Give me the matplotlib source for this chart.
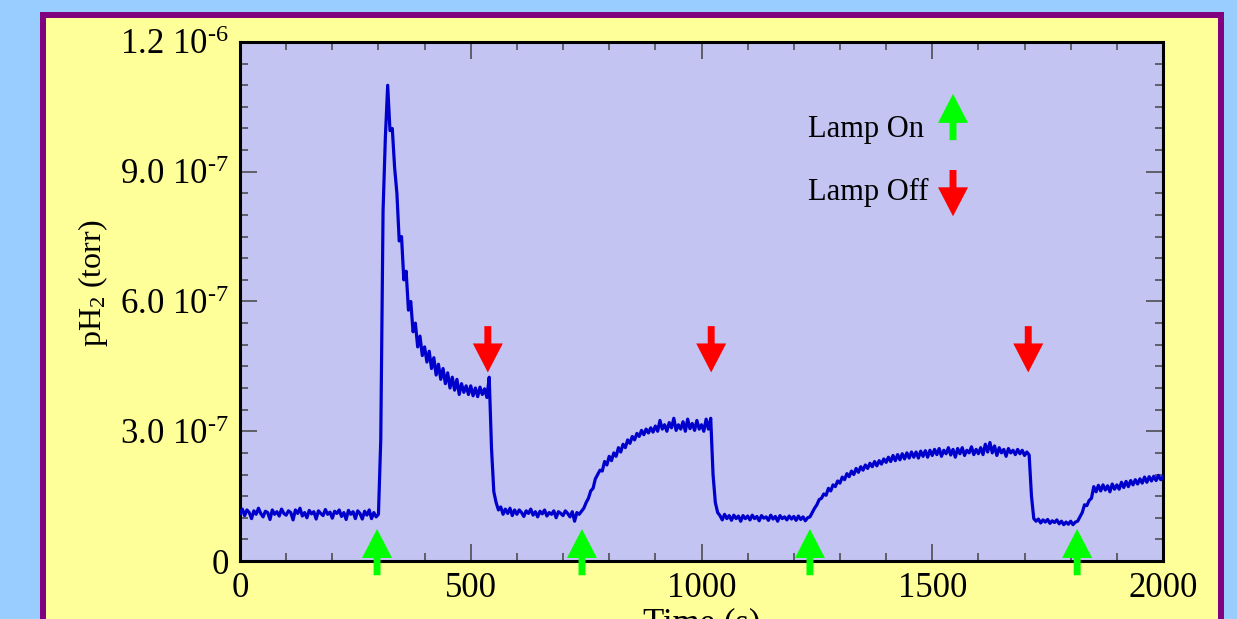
import numpy as np
import matplotlib
matplotlib.use('Agg')
import matplotlib.pyplot as plt
from matplotlib.patches import Rectangle, FancyArrow
from matplotlib.ticker import MultipleLocator, FixedLocator, FixedFormatter

plt.rcParams['font.family'] = ['Liberation Serif', 'DejaVu Serif']
plt.rcParams['mathtext.fontset'] = 'custom'
plt.rcParams['mathtext.rm'] = 'Liberation Serif'
plt.rcParams['mathtext.it'] = 'Liberation Serif:italic'

# pH2 trace, every 5 s (units of 1e-7 torr)
time_s = np.arange(0, 2001, 5)
ph2_e7 = [
    1.10, 1.20, 1.05, 1.18, 1.12, 0.98, 1.16, 1.08, 1.22, 1.10, 1.02, 1.15, 1.12, 0.96, 1.18, 1.08, 1.14, 1.04, 1.20, 1.10,
    1.06, 1.16, 1.12, 0.95, 1.18, 1.10, 1.22, 1.04, 1.12, 1.00, 1.17, 1.09, 1.14, 0.97, 1.16, 1.10, 1.05, 1.19, 1.08, 1.13,
    0.99, 1.15, 1.10, 1.18, 1.03, 1.12, 0.96, 1.17, 1.08, 1.14, 0.98, 1.16, 1.10, 0.97, 1.15, 1.06, 1.18, 0.98, 1.12, 1.02,
    1.08, 2.80, 8.10, 9.80, 11.0, 9.95, 10.0, 9.10, 8.50, 7.40, 7.50, 6.50, 6.70, 5.80, 6.00, 5.30, 5.50, 4.95, 5.20, 4.75,
    4.95, 4.60, 4.85, 4.45, 4.70, 4.30, 4.55, 4.20, 4.45, 4.10, 4.35, 4.00, 4.25, 3.95, 4.20, 3.85, 4.10, 3.90, 4.05, 3.85,
    4.05, 3.82, 4.00, 3.80, 4.02, 3.85, 3.98, 3.78, 4.25, 2.60, 1.60, 1.35, 1.18, 1.25, 1.08, 1.20, 1.10, 1.22, 1.05, 1.18,
    1.08, 1.18, 1.12, 1.03, 1.16, 1.10, 1.20, 1.06, 1.14, 1.02, 1.15, 1.09, 1.18, 1.04, 1.12, 1.08, 1.16, 1.00, 1.14, 1.10,
    1.05, 1.16, 1.10, 1.02, 1.14, 0.92, 1.12, 1.08, 1.15, 1.22, 1.35, 1.45, 1.62, 1.68, 1.90, 2.00, 2.10, 2.08, 2.30, 2.22,
    2.42, 2.32, 2.50, 2.42, 2.62, 2.52, 2.70, 2.62, 2.80, 2.72, 2.88, 2.80, 2.95, 2.88, 3.02, 2.92, 3.05, 2.96, 3.08, 2.98,
    3.12, 3.00, 3.25, 3.05, 3.15, 3.00, 3.20, 3.08, 3.30, 3.02, 3.15, 3.05, 3.22, 3.00, 3.28, 3.06, 3.18, 3.02, 3.25, 3.05,
    3.15, 3.00, 3.28, 3.05, 3.30, 2.00, 1.35, 1.12, 1.05, 0.95, 1.08, 0.98, 1.05, 0.94, 1.06, 0.98, 1.04, 0.92, 1.05, 0.98,
    1.04, 0.95, 1.06, 0.98, 1.03, 0.93, 1.05, 0.99, 1.02, 0.94, 1.06, 0.97, 1.03, 0.92, 1.05, 0.98, 1.02, 0.95, 1.04, 0.97,
    1.03, 0.94, 1.04, 0.96, 1.02, 0.93, 1.00, 1.02, 1.12, 1.22, 1.30, 1.42, 1.45, 1.55, 1.52, 1.68, 1.62, 1.76, 1.72, 1.85,
    1.80, 1.94, 1.88, 2.02, 1.95, 2.08, 2.00, 2.14, 2.05, 2.18, 2.10, 2.22, 2.14, 2.26, 2.18, 2.30, 2.20, 2.32, 2.24, 2.36,
    2.28, 2.40, 2.30, 2.44, 2.32, 2.46, 2.34, 2.48, 2.36, 2.50, 2.38, 2.52, 2.40, 2.52, 2.38, 2.54, 2.42, 2.55, 2.40, 2.56,
    2.44, 2.58, 2.46, 2.60, 2.42, 2.56, 2.48, 2.62, 2.45, 2.58, 2.40, 2.60, 2.48, 2.62, 2.44, 2.56, 2.50, 2.64, 2.46, 2.58,
    2.48, 2.62, 2.46, 2.70, 2.52, 2.74, 2.50, 2.66, 2.44, 2.62, 2.50, 2.58, 2.42, 2.60, 2.50, 2.56, 2.46, 2.58, 2.48, 2.56,
    2.44, 2.52, 2.45, 1.50, 0.98, 0.92, 0.97, 0.88, 0.95, 0.90, 0.96, 0.87, 0.93, 0.89, 0.95, 0.86, 0.92, 0.84, 0.90, 0.85,
    0.92, 0.84, 0.90, 0.92, 1.02, 1.12, 1.30, 1.28, 1.40, 1.45, 1.72, 1.60, 1.75, 1.62, 1.76, 1.64, 1.74, 1.60, 1.78, 1.66,
    1.76, 1.66, 1.82, 1.70, 1.84, 1.72, 1.86, 1.76, 1.88, 1.78, 1.90, 1.80, 1.94, 1.82, 1.95, 1.85, 1.96, 1.86, 1.98, 1.88,
    1.95,
]
ph2 = np.array(ph2_e7) * 1e-7

lamp_on_times = [297, 741, 1235, 1814]
lamp_off_times = [537, 1021, 1708]

y_ticks = [0, 3e-7, 6e-7, 9e-7, 1.2e-6]
y_tick_labels = ['0', r'3.0 10$^{\text{-7}}$', r'6.0 10$^{\text{-7}}$',
                 r'9.0 10$^{\text{-7}}$', r'1.2 10$^{\text{-6}}$']
x_ticks = [0, 500, 1000, 1500, 2000]

W, H = 1237, 619
fig = plt.figure(figsize=(W / 100, H / 100), dpi=100, facecolor='#99ccff')

# yellow panel with purple frame
fig.patches.append(Rectangle((43 / W, -0.2), (1221 - 43) / W, 1.2 - 14.5 / H,
                             transform=fig.transFigure, facecolor='#ffff99',
                             edgecolor='#800080', linewidth=4.3, zorder=-5))

ax = fig.add_axes([240 / W, 1 - 561 / H, (1163 - 240) / W, (561 - 42) / H])
ax.set_facecolor('#c4c4f2')
ax.plot(time_s, ph2, color='#0000cc', lw=2.3, zorder=3)

ax.set_xlim(0, 2000)
ax.set_ylim(0, 1.2e-6)
ax.xaxis.set_major_locator(FixedLocator(x_ticks))
ax.xaxis.set_minor_locator(MultipleLocator(100))
ax.yaxis.set_major_locator(FixedLocator(y_ticks))
ax.yaxis.set_major_formatter(FixedFormatter(y_tick_labels))
ax.yaxis.set_minor_locator(MultipleLocator(0.5e-7))
ax.tick_params(which='both', direction='in', top=True, right=True,
               color='#444444', labelsize=25)
ax.tick_params(which='major', length=12, width=1.1, pad=8)
ax.tick_params(which='minor', length=6, width=1.1)
for s in ax.spines.values():
    s.set_linewidth(2.2)
    s.set_color('black')

ax.set_ylabel('pH$_2$ (torr)', fontsize=23)
ax.yaxis.set_label_coords(-0.141, 0.535)
ax.set_xlabel('Time (s)', fontsize=25)
ax.xaxis.set_label_coords(0.5, -0.09)

# arrows: widths in seconds, lengths in torr
head_w, stem_w = 65, 15
head_l, arrow_l = 0.67e-7, 1.07e-7
for t in lamp_on_times:
    ax.add_patch(FancyArrow(t, -0.33e-7, 0, arrow_l, width=stem_w, head_width=head_w,
                            head_length=head_l, length_includes_head=True,
                            color='#00ff00', lw=0, clip_on=False, zorder=5))
for t in lamp_off_times:
    ax.add_patch(FancyArrow(t, 5.43e-7, 0, -arrow_l, width=stem_w, head_width=head_w,
                            head_length=head_l, length_includes_head=True,
                            color='#ff0000', lw=0, clip_on=False, zorder=5))

# legend
ax.text(1231, 9.97e-7, 'Lamp On', fontsize=22, va='center', ha='left')
ax.text(1231, 8.53e-7, 'Lamp Off', fontsize=22, va='center', ha='left')
ax.add_patch(FancyArrow(1545, 9.73e-7, 0, arrow_l, width=stem_w, head_width=head_w,
                        head_length=head_l, length_includes_head=True,
                        color='#00ff00', lw=0, zorder=5))
ax.add_patch(FancyArrow(1545, 9.04e-7, 0, -arrow_l, width=stem_w, head_width=head_w,
                        head_length=head_l, length_includes_head=True,
                        color='#ff0000', lw=0, zorder=5))

fig.savefig('out.png', dpi=100, facecolor=fig.get_facecolor())
